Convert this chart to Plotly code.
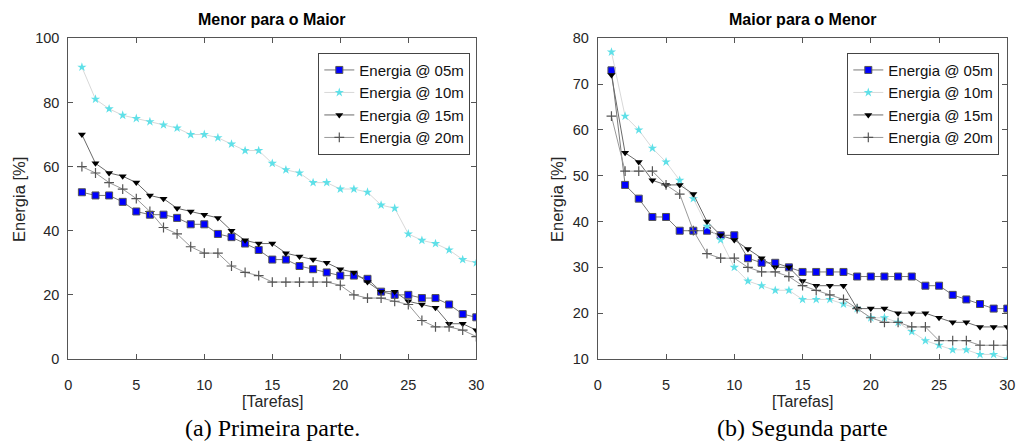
import plotly.graph_objects as go

tarefas = list(range(1, 31))

# Left: Menor para o Maior
l_05 = [52, 51, 51, 49, 46, 45, 45, 44, 42, 42, 39, 38, 36, 34, 31, 31, 29, 28, 27, 26, 26, 25, 21, 20, 20, 19, 19, 17, 14, 13]
l_10 = [91, 81, 78, 76, 75, 74, 73, 72, 70, 70, 69, 67, 65, 65, 61, 59, 58, 55, 55, 53, 53, 52, 48, 47, 39, 37, 36, 34, 31, 30]
l_15 = [70, 61, 58, 57, 55, 51, 50, 47, 46, 45, 44, 40, 37, 36, 36, 33, 32, 31, 30, 28, 27, 24, 21, 21, 18, 17, 16, 11, 11, 9]
l_20 = [60, 58, 55, 53, 50, 46, 41, 39, 35, 33, 33, 29, 27, 26, 24, 24, 24, 24, 24, 23, 20, 19, 19, 18, 17, 12, 10, 10, 9, 7]

# Right: Maior para o Menor
r_05 = [73, 48, 45, 41, 41, 38, 38, 38, 37, 37, 32, 31, 31, 30, 29, 29, 29, 29, 28, 28, 28, 28, 28, 26, 26, 24, 23, 22, 21, 21]
r_10 = [77, 63, 60, 56, 53, 49, 45, 39, 36, 30, 27, 26, 25, 25, 23, 23, 23, 22, 21, 19, 19, 18, 16, 14, 13, 12, 12, 11, 11, 10]
r_15 = [72, 55, 53, 49, 48, 48, 46, 40, 37, 36, 34, 32, 30, 30, 27, 26, 26, 26, 21, 21, 21, 20, 20, 20, 19, 18, 18, 17, 17, 17]
r_20 = [63, 51, 51, 51, 48, 46, 38, 33, 32, 32, 30, 29, 29, 28, 26, 25, 24, 23, 21, 19, 18, 18, 17, 17, 14, 14, 14, 13, 13, 13]

names = ["Energia @ 05m", "Energia @ 10m", "Energia @ 15m", "Energia @ 20m"]
x_ticks = [0, 5, 10, 15, 20, 25, 30]
left_y_ticks = [0, 20, 40, 60, 80, 100]
right_y_ticks = [10, 20, 30, 40, 50, 60, 70, 80]

titles = ["Menor para o Maior", "Maior para o Menor"]
captions = ["(a) Primeira parte.", "(b) Segunda parte"]

styles = [
    dict(line=dict(color="#7a7a7a", width=1),
         marker=dict(symbol="square", size=7, color="#0000ff", line=dict(color="#555555", width=1))),
    dict(line=dict(color="#d8d8d8", width=1),
         marker=dict(symbol="star", size=7, color="#5fe0e8", line=dict(width=0))),
    dict(line=dict(color="#6a6a6a", width=1),
         marker=dict(symbol="triangle-down", size=7, color="#000000", line=dict(width=0))),
    dict(line=dict(color="#999999", width=1),
         marker=dict(symbol="cross-thin", size=7, color="#555555", line=dict(color="#555555", width=1.2))),
]

W, H = 1016, 444
def px(v):
    return v / W
def py(v):
    return (H - v) / H

fig = go.Figure()

for series, legend, xa, ya in [((l_05, l_10, l_15, l_20), "legend", "x", "y"),
                               ((r_05, r_10, r_15, r_20), "legend2", "x2", "y2")]:
    for name, vals, st in zip(names, series, styles):
        fig.add_trace(go.Scatter(x=tarefas, y=vals, name=name, mode="lines+markers",
                                 line=st["line"], marker=st["marker"],
                                 xaxis=xa, yaxis=ya, legend=legend))

font_main = "Liberation Sans, Arial, sans-serif"
axis_common = dict(showline=True, linecolor="#555555", linewidth=1, mirror="ticks",
                   ticks="inside", ticklen=5, tickcolor="#555555", showgrid=False,
                   zeroline=False, automargin=False,
                   tickfont=dict(family=font_main, size=14.5, color="#262626"))

y_dom = [py(359), py(38.3)]
legend_common = dict(xanchor="left", yanchor="top",
                     bordercolor="#444444", borderwidth=1, bgcolor="white",
                     font=dict(family=font_main, size=15, color="#111111"),
                     itemwidth=30, tracegroupgap=0)
fig.update_layout(
    template="none",
    width=W, height=H, margin=dict(l=0, r=0, t=0, b=0, autoexpand=False),
    paper_bgcolor="white", plot_bgcolor="white",
    xaxis=dict(domain=[px(68.3), px(476.3)], range=[0, 30], tickvals=x_ticks,
               anchor="y", ticklabelstandoff=13, **axis_common),
    yaxis=dict(domain=y_dom, range=[0, 100], tickvals=left_y_ticks, anchor="x",
               ticklabelstandoff=5, **axis_common),
    xaxis2=dict(domain=[px(597.8), px(1007.3)], range=[0, 30], tickvals=x_ticks,
                anchor="y2", ticklabelstandoff=13, **axis_common),
    yaxis2=dict(domain=y_dom, range=[10, 80], tickvals=right_y_ticks, anchor="x2",
                ticklabelstandoff=5, **axis_common),
    legend=dict(x=px(318.3), y=py(52.7), **legend_common),
    legend2=dict(x=px(847.3), y=py(52.7), **legend_common),
    showlegend=True,
)

annotations = []
for cx, ylab_x, title, cap in [((68.3 + 476.3) / 2, 19, titles[0], captions[0]),
                               ((597.8 + 1007.3) / 2, 557, titles[1], captions[1])]:
    annotations.append(dict(x=px(cx), y=py(19), xref="paper", yref="paper", text="<b>" + title + "</b>",
                            showarrow=False, xanchor="center", yanchor="middle",
                            font=dict(family=font_main, size=16, color="#000000")))
    annotations.append(dict(x=px(cx), y=py(401.5), xref="paper", yref="paper", text="[Tarefas]",
                            showarrow=False, xanchor="center", yanchor="middle",
                            font=dict(family=font_main, size=16, color="#262626")))
    annotations.append(dict(x=px(ylab_x), y=py(200), xref="paper", yref="paper", text="Energia [%]",
                            showarrow=False, xanchor="center", yanchor="middle", textangle=-90,
                            font=dict(family=font_main, size=16.5, color="#262626")))
    annotations.append(dict(x=px(cx), y=py(428), xref="paper", yref="paper", text=cap,
                            showarrow=False, xanchor="center", yanchor="middle",
                            font=dict(family="Liberation Serif, serif", size=24, color="#000000")))
fig.update_layout(annotations=annotations)

fig.write_html("out.html")
